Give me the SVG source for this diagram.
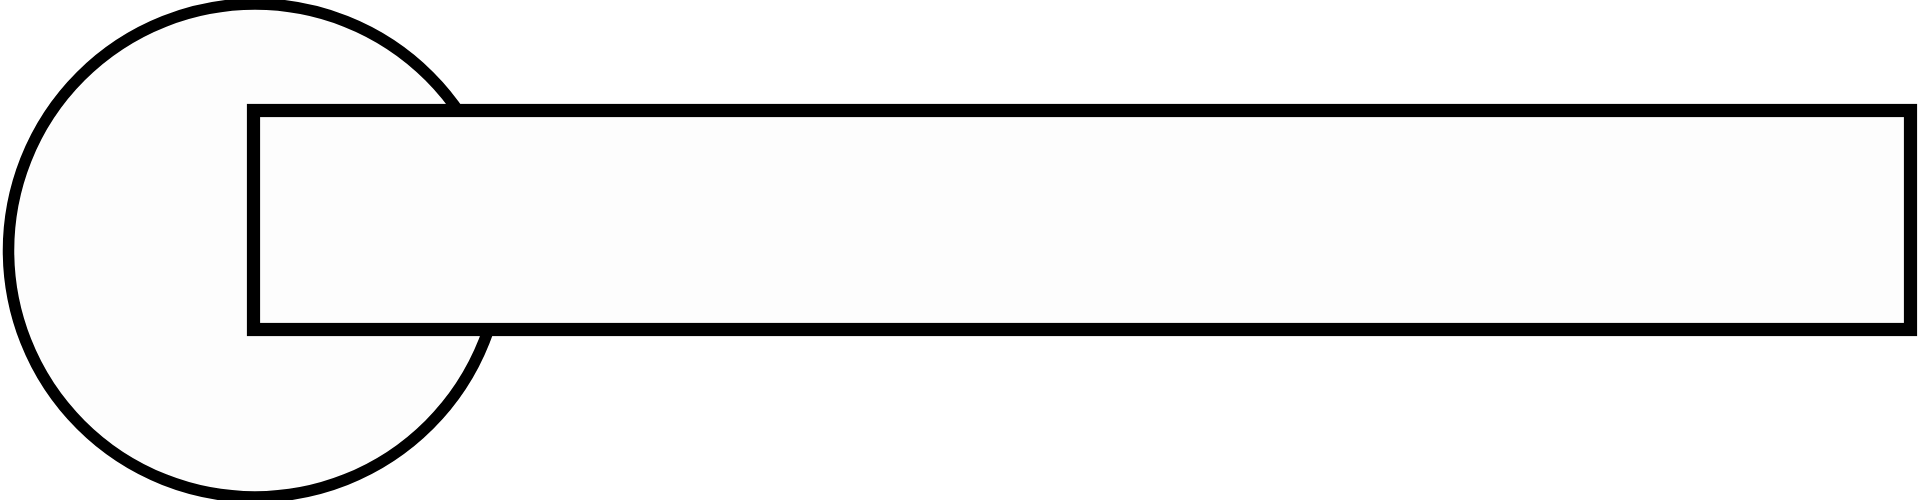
<svg xmlns="http://www.w3.org/2000/svg" width="1920" height="500" viewBox="0 0 1920 500">
<style>
.shape { fill: #fdfdfd; stroke: #000000; }
</style>
<rect x="0" y="0" width="1920" height="500" fill="#ffffff"/>
<g id="circle-node">
<circle class="shape" cx="255" cy="250.5" r="246.5" stroke-width="11.5"/>
</g>
<g id="rect-node">
<rect class="shape" x="253.5" y="110.5" width="1657" height="219" stroke-width="13.2"/>
</g>
<g id="connectors"></g>
</svg>
